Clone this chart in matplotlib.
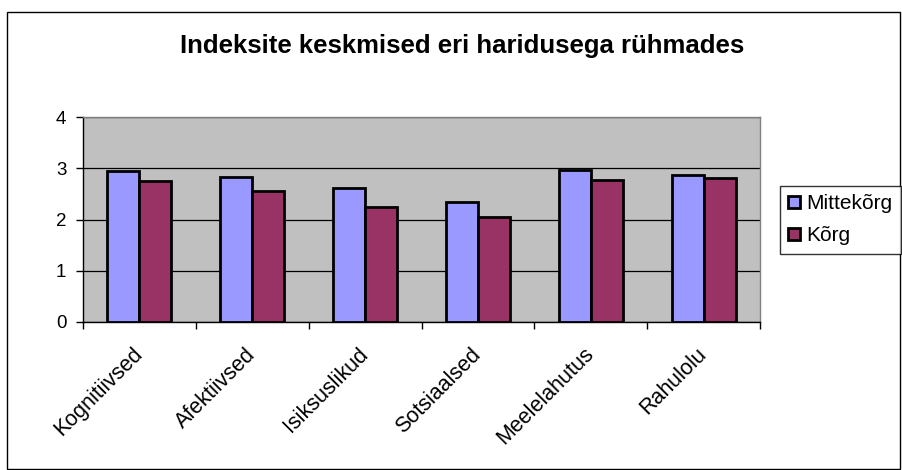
import matplotlib
matplotlib.use("Agg")
import matplotlib.pyplot as plt
from matplotlib.patches import Rectangle
import numpy as np

plt.rcParams['font.family'] = ['Liberation Sans', 'DejaVu Sans']

categories = ["Kognitiivsed", "Afektiivsed", "Isiksuslikud", "Sotsiaalsed", "Meelelahutus", "Rahulolu"]
mittekorg = [2.94, 2.83, 2.61, 2.34, 2.96, 2.87]
korg = [2.76, 2.55, 2.25, 2.04, 2.78, 2.81]
series_names = ["Mittekõrg", "Kõrg"]
yticks = [0, 1, 2, 3, 4]
title = "Indeksite keskmised eri haridusega rühmades"

W, H = 902, 470
fig = plt.figure(figsize=(W / 100, H / 100), dpi=100)

# outer chart border
fig.patches.append(Rectangle((7 / W, 1 - 469 / H), (900 - 7) / W, (469 - 12) / H,
                             transform=fig.transFigure, fill=False,
                             edgecolor="black", linewidth=1.0))

left, right, top, bottom = 83, 760, 117, 322
ax = fig.add_axes([left / W, 1 - bottom / H, (right - left) / W, (bottom - top) / H])
ax.set_facecolor("#C0C0C0")

x = np.arange(len(categories))
bw = 0.283
ax.bar(x - bw / 2, mittekorg, width=bw, color="#9999FF", edgecolor="black",
       linewidth=2.0, label=series_names[0], zorder=3)
ax.bar(x + bw / 2, korg, width=bw, color="#993366", edgecolor="black",
       linewidth=2.0, label=series_names[1], zorder=3)

ax.set_xlim(-0.5, len(categories) - 0.5)
ax.set_ylim(0, 4)
ax.set_yticks(yticks)
ax.set_yticklabels([str(t) for t in yticks], fontsize=13.5)
ax.yaxis.grid(True, color="black", linewidth=0.9, zorder=1)
ax.set_axisbelow(True)

ax.set_xticks(x)
ax.set_xticklabels(categories, fontsize=15.5, rotation=45, ha="right", va="center",
                   rotation_mode="anchor")
ax.set_xticks(np.arange(-0.5, len(categories)), minor=True)
ax.tick_params(axis="x", which="major", length=0, pad=21)
ax.tick_params(axis="x", which="minor", length=5, width=1, direction="out")
ax.tick_params(axis="y", which="major", length=5, width=1, direction="out", pad=7)

for s in ["top", "right"]:
    ax.spines[s].set_color("#808080")
    ax.spines[s].set_linewidth(1.0)
for s in ["left", "bottom"]:
    ax.spines[s].set_color("black")
    ax.spines[s].set_linewidth(1.0)

fig.text(462 / W, 1 - 46 / H, title, ha="center", va="center",
         fontsize=18.5, fontweight="bold")

leg = fig.legend(loc="upper left", bbox_to_anchor=(780 / W, 1 - 186 / H),
                 frameon=True, fancybox=False, shadow=False, fontsize=15,
                 handlelength=0.55, handleheight=0.55, handletextpad=0.3,
                 borderpad=0.4, labelspacing=0.62, borderaxespad=0)
leg.get_frame().set_edgecolor("black")
leg.get_frame().set_linewidth(1.0)
for h in leg.legend_handles:
    h.set_linewidth(2.0)

fig.savefig("out.png", dpi=100)
